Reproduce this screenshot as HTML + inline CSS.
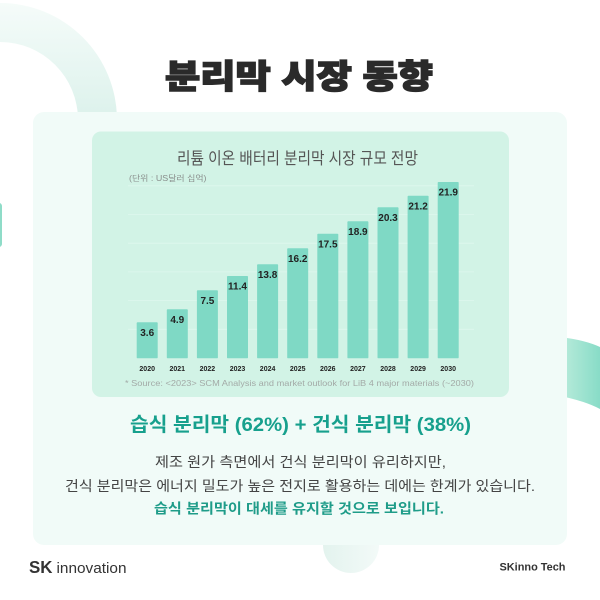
<!DOCTYPE html>
<html>
<head>
<meta charset="utf-8">
<style>
  html,body{margin:0;padding:0;background:#ffffff;}
  body{width:600px;height:600px;overflow:hidden;}
  svg{display:block;}
  text{font-family:"Liberation Sans","Noto Sans CJK KR",sans-serif;}
</style>
</head>
<body>
<svg width="600" height="600" viewBox="0 0 600 600" xmlns="http://www.w3.org/2000/svg">
  <defs>
    <linearGradient id="ringGrad" x1="0" y1="0" x2="0" y2="115" gradientUnits="userSpaceOnUse">
      <stop offset="0" stop-color="#f6fcfa"/>
      <stop offset="1" stop-color="#ddf2ec"/>
    </linearGradient>
    <linearGradient id="rightGrad" x1="567" y1="0" x2="600" y2="0" gradientUnits="userSpaceOnUse">
      <stop offset="0" stop-color="#b2e9d8"/>
      <stop offset="1" stop-color="#88dcc7"/>
    </linearGradient>
    <linearGradient id="bumpGrad" x1="323" y1="0" x2="379" y2="0" gradientUnits="userSpaceOnUse">
      <stop offset="0" stop-color="#e3f3ee"/>
      <stop offset="1" stop-color="#f3faf8"/>
    </linearGradient>
    <clipPath id="topClip"><rect x="0" y="0" width="600" height="116"/></clipPath>
  </defs>

  <rect x="0" y="0" width="600" height="600" fill="#ffffff"/>

  <path clip-path="url(#topClip)" fill="url(#ringGrad)" fill-rule="evenodd"
        d="M -117 120 A 117 117 0 1 1 117 120 A 117 117 0 1 1 -117 120 Z
           M -78 120 A 78 78 0 1 0 78 120 A 78 78 0 1 0 -78 120 Z"/>

  <rect x="-6" y="203" width="8" height="44" rx="3" fill="#8fdcc8"/>

  <path d="M560 337 Q585 340 600 347 L600 409 Q585 401 560 396 Z" fill="url(#rightGrad)"/>

  <circle cx="351" cy="545" r="28" fill="url(#bumpGrad)"/>

  <text x="165" y="88" font-size="33" font-weight="900" fill="#2a2a2a" stroke="#2a2a2a" stroke-width="1.4"
        textLength="268" lengthAdjust="spacingAndGlyphs">분리막 시장 동향</text>

  <rect x="33" y="112" width="534" height="433" rx="11" fill="#f1fbf8"/>

  <rect x="92" y="131.5" width="417" height="265.5" rx="9" fill="#d2f3e6"/>

  <text x="177" y="163.8" font-size="16.7" fill="#555555"
        textLength="241" lengthAdjust="spacingAndGlyphs">리튬 이온 배터리 분리막 시장 규모 전망</text>

  <text x="129" y="181" font-size="8" fill="#8a8f8d"
        textLength="77.5" lengthAdjust="spacingAndGlyphs">(단위 : US달러 십억)</text>

  <g stroke="#def7ee" stroke-width="0.8">
    <line x1="128" y1="185.8" x2="474" y2="185.8"/>
    <line x1="128" y1="214.5" x2="474" y2="214.5"/>
    <line x1="128" y1="243.2" x2="474" y2="243.2"/>
    <line x1="128" y1="271.9" x2="474" y2="271.9"/>
    <line x1="128" y1="300.6" x2="474" y2="300.6"/>
    <line x1="128" y1="329.3" x2="474" y2="329.3"/>
  </g>

  <g fill="#7fd9c5">
    <rect x="136.7" y="322.3" width="21" height="36" rx="0.8"/>
    <rect x="166.8" y="309.3" width="21" height="49" rx="0.8"/>
    <rect x="196.9" y="290.3" width="21" height="68" rx="0.8"/>
    <rect x="227.0" y="276.0" width="21" height="82.3" rx="0.8"/>
    <rect x="257.1" y="264.3" width="21" height="94" rx="0.8"/>
    <rect x="287.2" y="248.3" width="21" height="110" rx="0.8"/>
    <rect x="317.3" y="233.7" width="21" height="124.6" rx="0.8"/>
    <rect x="347.4" y="221.3" width="21" height="137" rx="0.8"/>
    <rect x="377.5" y="207.3" width="21" height="151" rx="0.8"/>
    <rect x="407.6" y="195.7" width="21" height="162.6" rx="0.8"/>
    <rect x="437.7" y="182.0" width="21" height="176.3" rx="0.8"/>
  </g>

  <g font-size="10" font-weight="bold" fill="#222222" text-anchor="middle">
    <text x="147.2" y="335.9">3.6</text>
    <text x="177.3" y="322.9">4.9</text>
    <text x="207.4" y="303.9">7.5</text>
    <text x="237.5" y="289.6">11.4</text>
    <text x="267.6" y="277.9">13.8</text>
    <text x="297.7" y="261.9">16.2</text>
    <text x="327.8" y="247.3">17.5</text>
    <text x="357.9" y="234.9">18.9</text>
    <text x="388.0" y="220.9">20.3</text>
    <text x="418.1" y="209.3">21.2</text>
    <text x="448.2" y="195.6">21.9</text>
  </g>

  <g font-size="7" font-weight="bold" fill="#222222" text-anchor="middle">
    <text x="147.2" y="371.2">2020</text>
    <text x="177.3" y="371.2">2021</text>
    <text x="207.4" y="371.2">2022</text>
    <text x="237.5" y="371.2">2023</text>
    <text x="267.6" y="371.2">2024</text>
    <text x="297.7" y="371.2">2025</text>
    <text x="327.8" y="371.2">2026</text>
    <text x="357.9" y="371.2">2027</text>
    <text x="388.0" y="371.2">2028</text>
    <text x="418.1" y="371.2">2029</text>
    <text x="448.2" y="371.2">2030</text>
  </g>

  <text x="125" y="386" font-size="8.3" fill="#a3aaa7" textLength="349" lengthAdjust="spacingAndGlyphs">* Source:  &lt;2023&gt; SCM Analysis and market outlook for LiB 4 major materials (~2030)</text>

  <text x="130" y="431" font-size="19.5" font-weight="bold" fill="#17a08d"
        textLength="341" lengthAdjust="spacingAndGlyphs">습식 분리막 (62%) + 건식 분리막 (38%)</text>

  <text x="155" y="467" font-size="14" fill="#444444"
        textLength="291" lengthAdjust="spacingAndGlyphs">제조 원가 측면에서 건식 분리막이 유리하지만,</text>
  <text x="65" y="491" font-size="14" fill="#444444"
        textLength="470" lengthAdjust="spacingAndGlyphs">건식 분리막은 에너지 밀도가 높은 전지로 활용하는 데에는 한계가 있습니다.</text>
  <text x="154" y="513.5" font-size="14" font-weight="bold" fill="#1f9c89"
        textLength="290" lengthAdjust="spacingAndGlyphs">습식 분리막이 대세를 유지할 것으로 보입니다.</text>

  <text x="29" y="573" font-size="17.5" font-weight="bold" fill="#333333"
        textLength="23.5" lengthAdjust="spacingAndGlyphs">SK</text>
  <text x="56.5" y="573" font-size="15" fill="#333333"
        textLength="70" lengthAdjust="spacingAndGlyphs">innovation</text>
  <text x="499.5" y="570.7" font-size="11" font-weight="bold" fill="#333333"
        textLength="66" lengthAdjust="spacingAndGlyphs">SKinno Tech</text>
</svg>
</body>
</html>
